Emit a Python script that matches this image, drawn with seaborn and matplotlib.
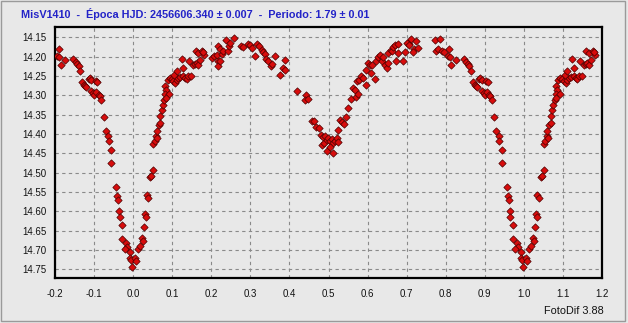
import numpy as np
import pandas as pd
import matplotlib
matplotlib.use("Agg")
import matplotlib.pyplot as plt
import seaborn as sns
from matplotlib.ticker import MultipleLocator, FormatStrFormatter

# Phase-folded light curve (phase in [0,1), magnitude)
phase = [
    0.8094, 0.8051, 0.8103, 0.8145, 0.8265, 0.8462, 0.8530, 0.8573, 0.8607, 0.8650,
    0.8701, 0.8744, 0.8778, 0.8803, 0.8863, 0.8889, 0.8932, 0.9043, 0.9077, 0.8932,
    0.8974, 0.9000, 0.9060, 0.9120, 0.9145, 0.9188, 0.9248, 0.9299, 0.9359, 0.9376,
    0.9444, 0.9444, 0.9556, 0.9598, 0.9615, 0.9641, 0.9658, 0.9726, 0.9726, 0.9812,
    0.9838, 0.9786, 0.9932, 0.9915, 0.9940, 0.9983,
    0.0043, 0.0068, 0.0128, 0.0171, 0.0222, 0.0248, 0.0274, 0.0299, 0.0333, 0.0342,
    0.0393, 0.0427, 0.0462, 0.0504, 0.0513, 0.0547, 0.0581, 0.0615, 0.0598, 0.0650,
    0.0684, 0.0684, 0.0726, 0.0752, 0.0786,
    0.0812, 0.0838, 0.0812, 0.0915, 0.0829, 0.0880, 0.0932, 0.0983, 0.1026, 0.1068,
    0.1111, 0.1154, 0.1051, 0.1111, 0.1197, 0.1282, 0.1325, 0.1368, 0.1410, 0.1479,
    0.1282, 0.1239, 0.1427, 0.1538, 0.1581, 0.1624, 0.1667, 0.1709, 0.1598, 0.1667,
    0.1769, 0.1821, 0.1795, 0.2009, 0.2077, 0.2137, 0.2179, 0.2162, 0.2222, 0.2265,
    0.2162, 0.2222, 0.2308, 0.2368, 0.2436, 0.2453, 0.2479, 0.2590, 0.2761, 0.2821,
    0.2949, 0.2991, 0.3051, 0.3120, 0.3162, 0.3222, 0.3291, 0.3333, 0.3376, 0.3402,
    0.3444, 0.3530, 0.3564, 0.3632, 0.3761, 0.3846, 0.3889, 0.3889,
    0.4205, 0.4436, 0.4393, 0.4479, 0.4581, 0.4624, 0.4675, 0.4752, 0.4803, 0.4863,
    0.4906, 0.4821, 0.4889, 0.4949, 0.4991, 0.5034, 0.5077, 0.5120, 0.5162, 0.5205,
    0.5231, 0.4974, 0.5103, 0.5034, 0.5248, 0.5291, 0.5333, 0.5393, 0.5436, 0.5504,
    0.5564, 0.5632, 0.5675, 0.5692, 0.5761, 0.5718, 0.5778, 0.5829, 0.5889, 0.5949,
    0.5949, 0.6017, 0.6060, 0.6085, 0.6120, 0.6188, 0.6205, 0.6256, 0.6316, 0.6359,
    0.6385, 0.6444, 0.6487, 0.6530, 0.6530, 0.6598, 0.6632, 0.6658, 0.6701, 0.6769,
    0.6786, 0.6718, 0.6915, 0.6957, 0.7026, 0.7060,
    0.7009, 0.7068, 0.7111, 0.7179, 0.7154, 0.7239, 0.7299, 0.7726, 0.7863, 0.7752,
    0.7795, 0.7897, 0.7949,
]
magnitude = [
    14.1793, 14.1991, 14.2017, 14.2207, 14.2078, 14.2052, 14.2147, 14.2190, 14.2233, 14.2362,
    14.2664, 14.2724, 14.2767, 14.2793, 14.2578, 14.2552, 14.2595, 14.2638, 14.2655, 14.2879,
    14.2940, 14.2983, 14.2922, 14.2983, 14.3026, 14.3112, 14.3569, 14.3914, 14.4060, 14.4172,
    14.4414, 14.4750, 14.5371, 14.5612, 14.5716, 14.5983, 14.6147, 14.6345, 14.6707, 14.6819,
    14.6922, 14.6974, 14.7052, 14.7207, 14.7267, 14.7448,
    14.7207, 14.7276, 14.6966, 14.6905, 14.6690, 14.6776, 14.6405, 14.6060, 14.6147, 14.5569,
    14.5655, 14.5103, 14.5078, 14.4922, 14.4259, 14.4190, 14.4060, 14.4103, 14.3931, 14.3759,
    14.3716, 14.3526, 14.3371, 14.3259, 14.3112,
    14.2767, 14.2853, 14.2966, 14.2966, 14.3069, 14.2595, 14.2552, 14.2569, 14.2638, 14.2681,
    14.2595, 14.2552, 14.2466, 14.2362, 14.2534, 14.2509, 14.2552, 14.2569, 14.2509, 14.2491,
    14.2293, 14.2052, 14.2103, 14.2224, 14.2190, 14.2164, 14.2207, 14.2078, 14.1862, 14.1905,
    14.1862, 14.1948, 14.1879, 14.2034, 14.1991, 14.1948, 14.2121, 14.2233, 14.2121, 14.1931,
    14.1733, 14.1793, 14.1845, 14.1560, 14.1862, 14.1733, 14.1647, 14.1517, 14.1733, 14.1759,
    14.1672, 14.1707, 14.1776, 14.1991, 14.1672, 14.1733, 14.1819, 14.1879, 14.1931, 14.2052,
    14.2103, 14.2250, 14.2190, 14.1991, 14.2466, 14.2293, 14.2353, 14.2078,
    14.2879, 14.2983, 14.3112, 14.3086, 14.3655, 14.3672, 14.3828, 14.3845, 14.4034, 14.4086,
    14.4060, 14.4276, 14.4233, 14.4147, 14.4103, 14.4190, 14.4121, 14.4233, 14.4172, 14.4103,
    14.4207, 14.4448, 14.4491, 14.4345, 14.3888, 14.3629, 14.3690, 14.3741, 14.3569, 14.3328,
    14.3086, 14.2810, 14.2853, 14.3052, 14.2966, 14.2638, 14.2595, 14.2509, 14.2552, 14.2724,
    14.2336, 14.2164, 14.2224, 14.2422, 14.2207, 14.2569, 14.2121, 14.2017, 14.1966, 14.2121,
    14.2017, 14.2207, 14.2293, 14.2164, 14.1905, 14.1819, 14.1862, 14.1759, 14.1707, 14.1672,
    14.1905, 14.2103, 14.2103, 14.1879, 14.1647, 14.1672,
    14.1647, 14.1690, 14.1534, 14.1793, 14.1879, 14.1586, 14.1776, 14.1560, 14.1534, 14.1845,
    14.1793, 14.1862, 14.1879,
]

title_text = "MisV1410  -  Época HJD: 2456606.340 ± 0.007  -  Periodo: 1.79 ± 0.01"
footer_text = "FotoDif 3.88"
x_range = (-0.2, 1.2)
y_range = (14.7727, 14.1234)

base = pd.DataFrame({"phase": phase, "mag": magnitude})
left_copy = base[base["phase"] >= 0.8].assign(phase=lambda d: d["phase"] - 1.0)
right_copy = base[base["phase"] < 0.2].assign(phase=lambda d: d["phase"] + 1.0)
df = pd.concat([left_copy, base, right_copy], ignore_index=True)

sns.set_style("white")
plt.rcParams["font.family"] = ["Liberation Sans", "DejaVu Sans"]

bg = "#e8e8e8"
fig = plt.figure(figsize=(6.28, 3.23), dpi=100, facecolor=bg)
ax = fig.add_axes([55 / 628, 1 - 278 / 323, (602 - 55) / 628, (278 - 27) / 323])
ax.set_facecolor(bg)

sns.scatterplot(data=df, x="phase", y="mag", ax=ax, marker="D", s=14,
                color="#d80c0c", edgecolor="#4a0000", linewidth=0.5, zorder=3)

ax.set_xlim(*x_range)
ax.set_ylim(*y_range)
ax.set_xlabel("")
ax.set_ylabel("")

ax.xaxis.set_major_locator(MultipleLocator(0.1))
ax.xaxis.set_minor_locator(MultipleLocator(0.02))
ax.yaxis.set_major_locator(MultipleLocator(0.05))
ax.yaxis.set_minor_locator(MultipleLocator(0.01))
ax.xaxis.set_major_formatter(FormatStrFormatter("%.1f"))
ax.yaxis.set_major_formatter(FormatStrFormatter("%.2f"))

ax.grid(True, which="major", color="#8a8a8a", linestyle=(0, (3, 3)), linewidth=0.8, zorder=0)
ax.set_axisbelow(True)

ax.tick_params(axis="x", which="major", direction="in", length=4, width=1, color="#555555",
               pad=8, labelsize=7, labelcolor="#111111")
ax.tick_params(axis="x", which="minor", direction="out", length=2, width=0.8, color="#555555")
ax.tick_params(axis="y", which="major", direction="out", length=4, width=1, color="#555555",
               pad=2, labelsize=7, labelcolor="#111111")
ax.tick_params(axis="y", which="minor", direction="out", length=2, width=0.8, color="#555555")

for sp in ax.spines.values():
    sp.set_visible(True)
    sp.set_color("black")
    sp.set_linewidth(1.6)

fig.text(21 / 628, 1 - 14.5 / 323, title_text, color="#2323c8", fontsize=7.8,
         fontweight="bold", ha="left", va="center")
fig.text(604 / 628, 1 - 311 / 323, footer_text, color="#111111", fontsize=7.8,
         ha="right", va="center")

border = plt.Rectangle((0.5 / 628, 2 / 323), 624.5 / 628, 320 / 323, transform=fig.transFigure,
                       fill=False, edgecolor="#9a9a9a", linewidth=1.0)
fig.patches.append(border)

fig.savefig("out.png", dpi=100, facecolor=bg)
